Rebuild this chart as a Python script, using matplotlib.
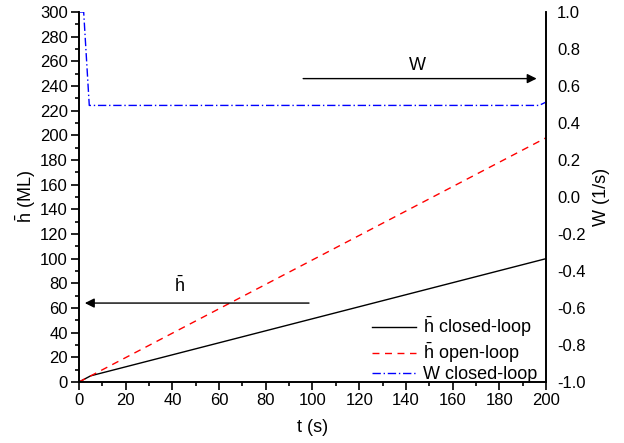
import matplotlib
matplotlib.use("Agg")
import matplotlib.pyplot as plt
from matplotlib.ticker import MultipleLocator, FormatStrFormatter

plt.rcParams.update(
    {
        "font.family": "Liberation Sans",
        "font.size": 12,
        "mathtext.fontset": "custom",
        "mathtext.rm": "Liberation Sans",
        "mathtext.it": "Liberation Sans:italic",
        "axes.unicode_minus": False,
        "axes.linewidth": 1.2,
    }
)

# closed-loop mean thickness (ML)
t_closed = [0, 5, 200]
h_closed = [0, 5, 100]

# open-loop mean thickness (ML)
t_open = [0, 200]
h_open = [0, 198]

# closed-loop control W (1/s)
t_w = [0, 2, 4.4, 197, 200]
w_closed = [1.0, 1.0, 0.495, 0.495, 0.513]

HBAR = r"$\bar{\mathrm{h}}$"

fig = plt.figure(figsize=(6.24, 4.43), dpi=100)
ax = fig.add_axes([0.1266, 0.1377, 0.7484, 0.8352])
ax2 = ax.twinx()

l1, = ax.plot(t_closed, h_closed, color="black", lw=1.0, label=HBAR + " closed-loop")
l2, = ax.plot(t_open, h_open, color="#FF0000", lw=1.0, ls=(0, (5, 4)), label=HBAR + " open-loop")
l3, = ax2.plot(t_w, w_closed, color="#0000FF", lw=1.0, ls=(0, (6, 2, 1, 2)), label="W closed-loop")

ax.set_xlim(0, 200)
ax.set_ylim(0, 300)
ax2.set_ylim(-1.0, 1.0)

ax.xaxis.set_major_locator(MultipleLocator(20))
ax.xaxis.set_minor_locator(MultipleLocator(10))
ax.yaxis.set_major_locator(MultipleLocator(20))
ax.yaxis.set_minor_locator(MultipleLocator(10))
ax2.yaxis.set_major_locator(MultipleLocator(0.2))
ax2.yaxis.set_major_formatter(FormatStrFormatter("%.1f"))

ax.tick_params(which="major", direction="out", length=6, width=1.2, labelsize=12, pad=2)
ax.tick_params(which="minor", direction="out", length=3, width=1.2)
ax2.tick_params(which="both", length=0, pad=8, labelsize=12)

for a in (ax, ax2):
    a.spines["top"].set_visible(False)

ax.set_xlabel("t (s)", fontsize=13, labelpad=8)
ax.set_ylabel(HBAR + " (ML)", fontsize=13, labelpad=1)
ax2.set_ylabel("W (1/s)", fontsize=13, labelpad=5)

# annotation arrows pointing to each axis
arrow = dict(arrowstyle="-|>", color="black", lw=1.0, mutation_scale=14, shrinkA=0, shrinkB=0)
ax.annotate("", xy=(2.5, 64), xytext=(98.5, 64), arrowprops=arrow)
ax.text(43, 70, HBAR, ha="center", va="bottom", fontsize=13)
ax.annotate("", xy=(196, 246), xytext=(96, 246), arrowprops=arrow)
ax.text(145, 250, "W", ha="center", va="bottom", fontsize=13)

ax.legend(
    handles=[l1, l2, l3],
    loc="lower right",
    bbox_to_anchor=(1.0, -0.028),
    frameon=False,
    fontsize=13,
    handlelength=2.4,
    handletextpad=0.4,
    borderaxespad=0.1,
    labelspacing=0.08,
)

fig.savefig("out.png", dpi=100)
